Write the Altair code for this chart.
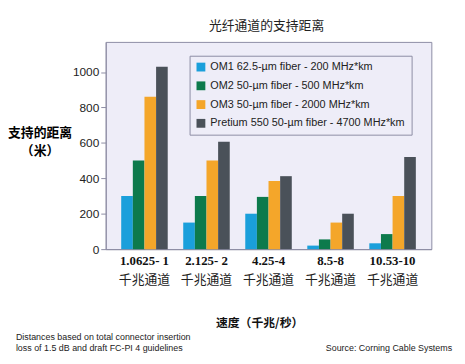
import altair as alt
import pandas as pd

categories = ["1.0625- 1", "2.125- 2", "4.25-4", "8.5-8", "10.53-10"]
series = [
    "OM1 62.5-µm fiber - 200 MHz*km",
    "OM2 50-µm fiber - 500 MHz*km",
    "OM3 50-µm fiber - 2000 MHz*km",
    "Pretium 550 50-µm fiber - 4700 MHz*km",
]
om1 = [300, 150, 200, 20, 33]
om2 = [500, 300, 295, 55, 85]
om3 = [860, 500, 385, 150, 300]
pretium = [1030, 607, 412, 200, 520]
colors = ["#1a9fdb", "#0d7a4c", "#f4a62a", "#4a5159"]
sub_label = "千兆通道"
y_ticks = [0, 200, 400, 600, 800, 1000]

rows = []
for s, vals in zip(series, [om1, om2, om3, pretium]):
    for c, v in zip(categories, vals):
        rows.append({"cat": c, "series": s, "value": v})
df = pd.DataFrame(rows)
lab_df = pd.DataFrame({"cat": categories, "sub": [sub_label] * len(categories)})

W, H = 330, 210

x_enc = alt.X(
    "cat:N",
    sort=categories,
    scale=alt.Scale(paddingInner=0.25, paddingOuter=0.25),
    axis=alt.Axis(
        title=None,
        labelAngle=0,
        labelFont="Liberation Serif",
        labelFontWeight="bold",
        labelFontSize=13,
        labelColor="#111111",
        labelPadding=6,
        ticks=False,
        domainColor="#8c8ca4",
    ),
)

bars = alt.Chart(df).mark_bar().encode(
    x=x_enc,
    xOffset=alt.XOffset("series:N", sort=series, scale=alt.Scale(paddingInner=0, paddingOuter=0)),
    y=alt.Y(
        "value:Q",
        scale=alt.Scale(domain=[0, 1170], nice=False),
        axis=alt.Axis(
            values=y_ticks,
            format="d",
            grid=False,
            title=["支持的距离", "（米）"],
            titleAngle=0,
            titleFont="Noto Sans CJK SC",
            titleFontWeight="bold",
            titleFontSize=13,
            titleX=-67,
            titleY=92,
            titleAlign="center",
            titleBaseline="middle",
            titleLineHeight=18,
            labelFont="Liberation Sans",
            labelFontSize=12,
            labelColor="#222222",
            tickColor="#8c8ca4",
            tickSize=5,
            domainColor="#8c8ca4",
        ),
    ),
    color=alt.Color(
        "series:N",
        sort=series,
        scale=alt.Scale(domain=series, range=colors),
        legend=alt.Legend(
            title=None,
            orient="none",
            legendX=85,
            legendY=14,
            strokeColor="#8c8ca4",
            padding=6,
            symbolType="square",
            symbolSize=80,
            symbolStrokeWidth=0,
            symbolOpacity=1,
            labelFont="Liberation Sans",
            labelFontSize=11,
            labelColor="#222222",
            rowPadding=7,
            labelLimit=300,
        ),
    ),
)

sub = alt.Chart(lab_df).mark_text(
    font="Noto Sans CJK SC", fontSize=13, color="#222222", baseline="middle"
).encode(
    x=alt.X("cat:N", sort=categories),
    y=alt.value(H + 31),
    text="sub:N",
)

title_txt = alt.Chart(pd.DataFrame({"t": ["光纤通道的支持距离"]})).mark_text(
    font="Noto Sans CJK SC", fontSize=13, color="#222222", baseline="middle"
).encode(x=alt.value(163), y=alt.value(-16), text="t:N")

xtitle = alt.Chart(pd.DataFrame({"t": ["速度（千兆/秒）"]})).mark_text(
    font="Noto Sans CJK SC", fontSize=12, fontWeight="bold", color="#111111", baseline="middle"
).encode(x=alt.value(156), y=alt.value(H + 75), text="t:N")

foot_left = alt.Chart(pd.DataFrame({"t": [["Distances based on total connector insertion", "loss of 1.5 dB and draft FC-PI 4 guidelines"]]})).mark_text(
    font="Liberation Sans", fontSize=9, color="#222222", align="left", baseline="top", lineHeight=11
).encode(x=alt.value(-91), y=alt.value(H + 85), text="t:N")

foot_right = alt.Chart(pd.DataFrame({"t": ["Source: Corning Cable Systems"]})).mark_text(
    font="Liberation Sans", fontSize=9, color="#222222", align="right", baseline="top"
).encode(x=alt.value(W + 21), y=alt.value(H + 96), text="t:N")

chart = alt.layer(bars, sub, title_txt, xtitle, foot_left, foot_right).properties(
    width=W,
    height=H,
    autosize=alt.AutoSizeParams(type="none"),
    padding={"left": 99, "top": 32, "right": 26, "bottom": 112},
    background="white",
).configure_view(
    fill="#eeedf8", stroke="#8c8ca4", strokeWidth=1
)

chart.save("out.html", embed_options={"renderer": "svg", "actions": False})
